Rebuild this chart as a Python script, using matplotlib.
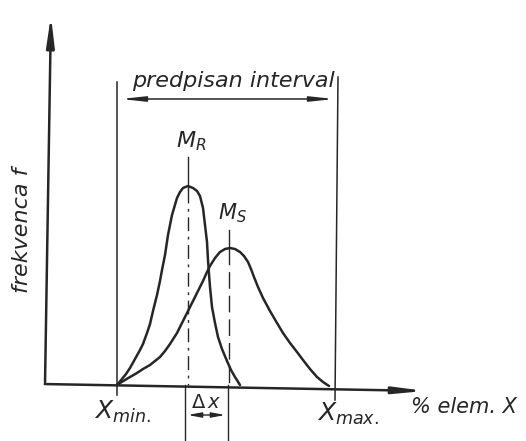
import matplotlib.pyplot as plt

# curve R (narrow, left) and curve S (wide, right); f = height above the x axis
r_x = [117, 122, 126, 130, 135, 140, 143, 147, 150, 153, 157, 160, 162, 165, 168, 172, 177, 180, 183, 188,
       193, 197, 200, 203, 205, 207, 208, 209, 210, 212, 215, 218, 222, 227, 231, 235, 240]
r_f = [0, 6, 11, 17, 26, 35, 41, 52, 61, 74, 90, 104, 115, 130, 150, 170, 187, 193, 197, 199,
       197, 194, 189, 177, 160, 143, 125, 111, 98, 78, 62, 48, 36, 24, 15, 8, 0]
s_x = [117, 120, 125, 130, 137, 143, 150, 155, 160, 165, 170, 177, 183, 190, 197, 203, 207, 210, 215, 220,
       225, 230, 235, 240, 244, 248, 251, 254, 258, 263, 270, 277, 283, 290, 297, 303, 310, 317, 323, 329]
s_f = [0, 2, 5, 8, 12, 16, 20, 24, 28, 34, 41, 52, 64, 78, 92, 104, 113, 119, 127, 133,
       136, 137, 136, 133, 129, 123, 116, 108, 98, 87, 74, 62, 52, 42, 33, 25, 16, 8, 3, -1]

x_min = 117
x_max = 336
m_r = 188
m_s = 229

ink = '#262626'
fnt = dict(color=ink, style='italic', family='DejaVu Sans')

fig = plt.figure(figsize=(5.26, 4.41), dpi=100)
ax = fig.add_axes([0, 0, 1, 1])
ax.set_xlim(0, 526)
ax.set_ylim(-56, 385)
ax.axis('off')

# axes with arrows
ax.annotate('', xy=(51, 372), xytext=(45, 0),
            arrowprops=dict(arrowstyle='-|>,head_length=1.8,head_width=0.24', color=ink, lw=1.8))
ax.annotate('', xy=(428, -6), xytext=(42, 1),
            arrowprops=dict(arrowstyle='-|>,head_length=1.8,head_width=0.2', color=ink, lw=1.8))

# curves
ax.plot(r_x, r_f, color=ink, lw=1.8, solid_capstyle='round', solid_joinstyle='round')
ax.plot(s_x, s_f, color=ink, lw=1.8, solid_capstyle='round', solid_joinstyle='round')

# interval limits
ax.plot([x_min, x_min], [-10, 303], color=ink, lw=1.1)
ax.plot([x_max + 2, x_max - 1], [308, -15], color=ink, lw=1.1)
ax.annotate('', xy=(x_min + 1, 286), xytext=(x_max + 1, 286),
            arrowprops=dict(arrowstyle='<|-|>,head_length=1.4,head_width=0.15', color=ink, lw=1.1))
ax.text((x_min + x_max) / 2 + 7, 304, 'predpisan interval', ha='center', va='center', fontsize=16, **fnt)

# mode lines
ax.plot([m_r, m_r], [228, 196], color=ink, lw=1.0)
ax.plot([m_r, m_r], [196, 0], color=ink, lw=1.0, ls=(0, (10, 4, 2, 4)))
ax.plot([m_s, m_s], [155, 137], color=ink, lw=1.0)
ax.plot([m_s, m_s], [137, 0], color=ink, lw=1.0, ls=(0, (12, 5)))
ax.text(m_r + 3, 244, r'$M_R$', ha='center', va='center', fontsize=16, **fnt)
ax.text(m_s + 3, 172, r'$M_S$', ha='center', va='center', fontsize=15, **fnt)

# delta x dimension
ax.plot([m_r - 3, m_r - 3], [0, -56], color=ink, lw=1.0)
ax.plot([m_s - 1, m_s - 1], [0, -56], color=ink, lw=1.0)
ax.annotate('', xy=(m_r - 3, -30), xytext=(m_s - 1, -30),
            arrowprops=dict(arrowstyle='<|-|>,head_length=0.8,head_width=0.15', color=ink, lw=1.0))
ax.text((m_r + m_s) / 2 - 2, -17, r'$\Delta\,x$', ha='center', va='center', fontsize=14, **fnt)

# labels
ax.text(x_min + 5, -27, r'$X_{min.}$', ha='center', va='center', fontsize=18, **fnt)
ax.text(x_max + 12, -29, r'$X_{max.}$', ha='center', va='center', fontsize=18, **fnt)
ax.text(464, -22, '% elem. X', ha='center', va='center', fontsize=15, **fnt)
ax.text(22, 155, 'frekvenca f', ha='center', va='center', rotation=90, fontsize=16, **fnt)

plt.savefig('out.png', dpi=100)
